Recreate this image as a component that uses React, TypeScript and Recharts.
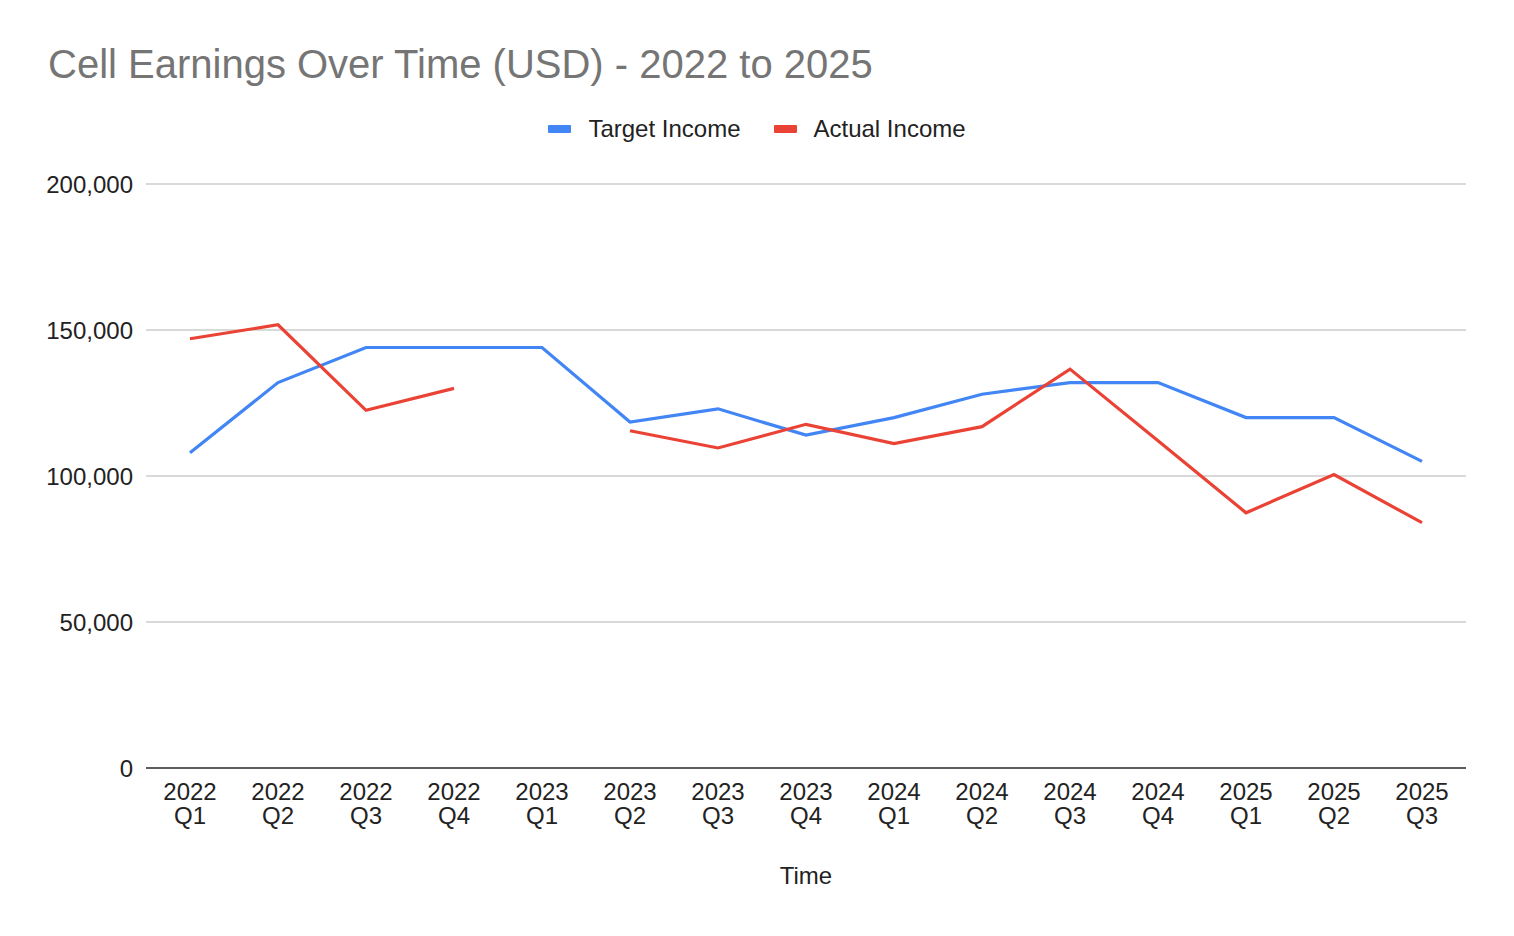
import { LineChart, Line, XAxis, YAxis, CartesianGrid, Label } from 'recharts'

const quarters = [
  '2022 Q1', '2022 Q2', '2022 Q3', '2022 Q4',
  '2023 Q1', '2023 Q2', '2023 Q3', '2023 Q4',
  '2024 Q1', '2024 Q2', '2024 Q3', '2024 Q4',
  '2025 Q1', '2025 Q2', '2025 Q3',
]

const targetIncome = [
  108000, 132000, 144000, 144000,
  144000, 118500, 123000, 114000,
  120000, 128000, 132000, 132000,
  120000, 120000, 105000,
]

const actualIncome: (number | null)[] = [
  147000, 151800, 122500, 130000,
  null, 115500, 109600, 117700,
  111100, 116900, 136600, 112100,
  87400, 100500, 84000,
]

const yTicks = [0, 50000, 100000, 150000, 200000]

const FONT = '"Liberation Sans", Arial, sans-serif'
const BLUE = '#4285F4'
const RED = '#EA4335'

const series = [
  { key: 'target', name: 'Target Income', color: BLUE },
  { key: 'actual', name: 'Actual Income', color: RED },
]

const data = quarters.map((q, i) => ({
  time: q,
  target: targetIncome[i],
  actual: actualIncome[i],
}))

function QuarterTick(props: any) {
  const { x, payload } = props
  const [year, q] = String(payload.value).split(' ')
  return (
    <text x={x} textAnchor="middle" fill="#222" fontSize={24} fontFamily={FONT}>
      <tspan x={x} y={800}>{year}</tspan>
      <tspan x={x} y={824}>{q}</tspan>
    </text>
  )
}

export default function App() {
  return (
    <div style={{ position: 'absolute', left: 0, top: 0, width: 1514, height: 936, background: '#fff' }}>
      <div
        style={{
          position: 'absolute',
          left: 48,
          top: 44,
          fontFamily: FONT,
          fontSize: 40,
          lineHeight: '40px',
          color: '#757575',
          whiteSpace: 'nowrap',
        }}
      >
        Cell Earnings Over Time (USD) - 2022 to 2025
      </div>
      <div
        style={{
          position: 'absolute',
          left: 0,
          top: 115,
          width: 1514,
          display: 'flex',
          justifyContent: 'center',
          gap: 33,
          fontFamily: FONT,
          fontSize: 24,
          lineHeight: '28px',
          color: '#222',
        }}
      >
        {series.map(s => (
          <div key={s.key} style={{ display: 'flex', alignItems: 'center', gap: 17 }}>
            <span style={{ display: 'inline-block', width: 23, height: 8, background: s.color, borderRadius: 1 }} />
            <span>{s.name}</span>
          </div>
        ))}
      </div>
      <LineChart
        width={1514}
        height={936}
        data={data}
        margin={{ top: 184, right: 48, left: 0, bottom: 48 }}
        style={{ position: 'absolute', left: 0, top: 0 }}
      >
        <CartesianGrid vertical={false} stroke="#cccccc" strokeWidth={1.3} />
        <XAxis
          dataKey="time"
          scale="point"
          padding={{ left: 44, right: 44 }}
          axisLine={{ stroke: '#333', strokeWidth: 1.3 }}
          tickLine={false}
          tickSize={0}
          interval={0}
          height={120}
          tick={<QuarterTick />}
        >
          <Label
            value="Time"
            position="insideBottom"
            offset={4}
            fill="#222"
            fontSize={24}
            fontFamily={FONT}
          />
        </XAxis>
        <YAxis
          width={146}
          domain={[0, 200000]}
          ticks={yTicks}
          axisLine={false}
          tickLine={false}
          tickSize={0}
          tickMargin={13}
          tickFormatter={(v: number) => v.toLocaleString('en-US')}
          tick={{ fill: '#222', fontSize: 24, fontFamily: FONT }}
        />
        {series.map(s => (
          <Line
            key={s.key}
            type="linear"
            dataKey={s.key}
            name={s.name}
            stroke={s.color}
            strokeWidth={3.2}
            dot={false}
            activeDot={false}
            isAnimationActive={false}
          />
        ))}
      </LineChart>
    </div>
  )
}
